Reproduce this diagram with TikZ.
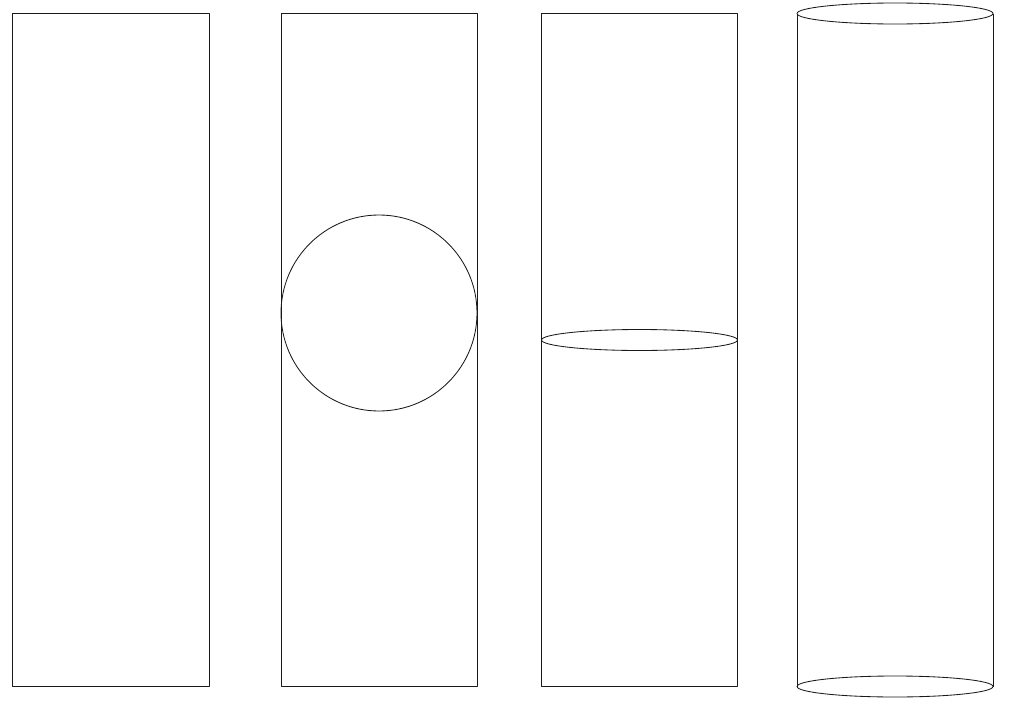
\documentclass[tikz,border=0pt]{standalone}
\usepackage{tikz}
\usetikzlibrary{calc}
\definecolor{bg}{HTML}{FFFFFF}
\definecolor{ink}{HTML}{1A1A1A}
\tikzset{
  base/.style={draw=ink, line width=0.6pt, line join=round},
}

\begin{document}
\begin{tikzpicture}[x=0.025cm, y=-0.025cm]
% frame
\fill[bg] (0,0) rectangle (1022,711);
\useasboundingbox (0,0) rectangle (1022,711);

% plain boxes
\foreach \xl/\xr in {12/209, 281/477, 541/737}{
  \draw[base] (\xl,13.5) rectangle (\xr,686.5);
}

% ball in box 2
\draw[base] (379,313) circle [radius=98];

% disc in box 3
\draw[base] (639.5,340) ellipse [x radius=98, y radius=10.5];

% cylinder
\draw[base] (797,13.5) -- (797,686.5);
\draw[base] (993,13.5) -- (993,686.5);
\draw[base] (895,13.5) ellipse [x radius=98, y radius=10.5];
\draw[base] (895,686.5) ellipse [x radius=98, y radius=10.5];
\end{tikzpicture}
\end{document}
